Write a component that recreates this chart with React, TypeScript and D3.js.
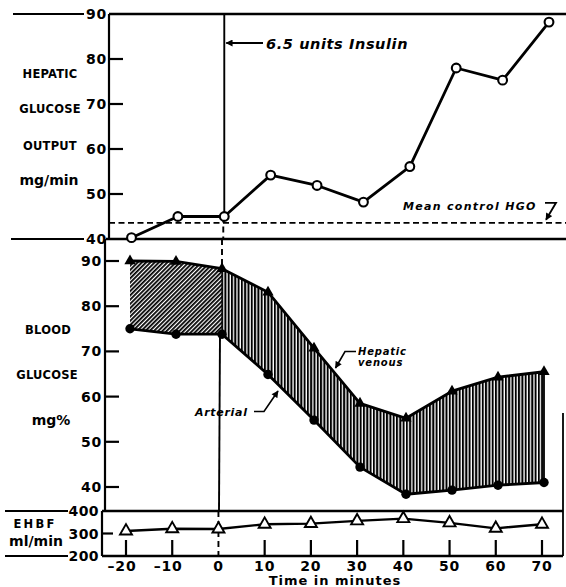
import React from 'react';
import * as d3 from 'd3';

// ---- data ----
const times = [-20, -10, 0, 10, 20, 30, 40, 50, 60, 70];
const hgo = [40.3, 45.0, 45.0, 54.2, 51.9, 48.2, 56.1, 78.0, 75.3, 88.2];
const meanControlHGO = 43.6;
const hepaticVenous = [90.0, 89.9, 88.3, 83.1, 70.7, 58.5, 55.2, 61.2, 64.3, 65.5];
const arterial = [75.0, 73.8, 73.8, 64.9, 54.8, 44.4, 38.4, 39.3, 40.4, 41.0];
const ehbf = [311, 321, 320, 341, 344, 356, 366, 347, 323, 341];
const hgoTicks = [40, 50, 60, 70, 80, 90];
const glucoseTicks = [40, 50, 60, 70, 80, 90];
const ehbfTicks = [200, 300, 400];
const timeTicks = [-20, -10, 0, 10, 20, 30, 40, 50, 60, 70];
const insulinTime = 0;

const W = 566;
const H = 587;
const FONT = "'DejaVu Sans', sans-serif";

export default function App() {
  // panel geometry
  const top = { y0: 14, y1: 239, axisX: 109 };
  const mid = { y0: 239, y1: 511, axisX: 105 };
  const bot = { y0: 511, y1: 556, axisX: 102 };
  const rightEdge = 566;
  const rightBorder = 563;

  const xTop = d3.scaleLinear().domain([-20, 70]).range([131.5, 549]);
  const xMid = d3.scaleLinear().domain([-20, 70]).range([130, 544]);
  const xBot = d3.scaleLinear().domain([-20, 70]).range([126, 542]);

  const yTop = d3.scaleLinear().domain([40, 90]).range([top.y1, top.y0]);
  const yMid = d3.scaleLinear().domain([40, 90]).range([487, 261]);
  const yBot = d3.scaleLinear().domain([200, 400]).range([bot.y1, bot.y0]);

  const hgoPts = times.map((t, i) => [xTop(t), yTop(hgo[i])] as [number, number]);
  const hvPts = times.map((t, i) => [xMid(t), yMid(hepaticVenous[i])] as [number, number]);
  const artPts = times.map((t, i) => [xMid(t), yMid(arterial[i])] as [number, number]);
  const ehbfPts = times.map((t, i) => [xBot(t), yBot(ehbf[i])] as [number, number]);

  const line = d3.line();
  const rows = times.map((t, i) => ({ t, hv: hepaticVenous[i], art: arterial[i] }));
  const area = d3
    .area<{ t: number; hv: number; art: number }>()
    .x((d) => xMid(d.t))
    .y0((d) => yMid(d.art))
    .y1((d) => yMid(d.hv));
  const preRows = rows.filter((d) => d.t <= insulinTime);
  const postRows = rows.filter((d) => d.t >= insulinTime);

  const triFilled = d3.symbol(d3.symbolTriangle, 55)()!;
  const triOpen = d3.symbol(d3.symbolTriangle, 62)()!;

  const tickFont = { fontFamily: FONT, fontWeight: 'bold' as const, fontSize: 14, letterSpacing: 0.8 };
  const labFont = { fontFamily: FONT, fontWeight: 'bold' as const, fontSize: 11.5, letterSpacing: 0.2 };
  const itFont = { fontFamily: FONT, fontWeight: 'bold' as const, fontStyle: 'italic' as const };

  const i0 = times.indexOf(insulinTime);
  const fmt = (v: number) => (v < 0 ? '\u2013' + Math.abs(v) : String(v));
  const yMean = yTop(meanControlHGO);

  return (
    <svg
      width={W}
      height={H}
      viewBox={`0 0 ${W} ${H}`}
      style={{ position: 'absolute', left: 0, top: 0, background: '#fff' }}
    >
      <defs>
        <pattern id="diag" patternUnits="userSpaceOnUse" width={3.0} height={3.0} patternTransform="rotate(45)">
          <rect width={3.0} height={3.0} fill="#fff" />
          <line x1={0.9} y1={0} x2={0.9} y2={3.0} stroke="#000" strokeWidth={1.8} />
        </pattern>
        <pattern id="vert" patternUnits="userSpaceOnUse" width={3.3} height={10}>
          <rect width={3.3} height={10} fill="#fff" />
          <line x1={1} y1={0} x2={1} y2={10} stroke="#000" strokeWidth={2} />
        </pattern>
        <marker id="ah" viewBox="0 0 10 10" refX={9} refY={5} markerWidth={8} markerHeight={7} orient="auto-start-reverse" markerUnits="userSpaceOnUse">
          <path d="M0,0 L10,5 L0,10 Z" fill="#000" />
        </marker>
      </defs>
      <rect width={W} height={H} fill="#fff" />

      {/* ================= TOP PANEL: HGO ================= */}
      <g>
        <line x1={13} x2={84} y1={top.y0} y2={top.y0} stroke="#000" strokeWidth={2.2} />
        <line x1={top.axisX} x2={rightEdge} y1={top.y0} y2={top.y0} stroke="#000" strokeWidth={2.4} />
        <line x1={11} x2={84} y1={top.y1} y2={top.y1} stroke="#000" strokeWidth={2.2} />
        <line x1={top.axisX - 3} x2={rightEdge} y1={top.y1} y2={top.y1} stroke="#000" strokeWidth={2.4} />
        <line x1={top.axisX} x2={top.axisX} y1={top.y0} y2={top.y1} stroke="#000" strokeWidth={2.2} />
        {hgoTicks.map((v) => (
          <g key={v}>
            {v > 40 && v < 90 && (
              <line x1={top.axisX} x2={top.axisX + 14} y1={yTop(v)} y2={yTop(v)} stroke="#000" strokeWidth={2.2} />
            )}
            <text x={top.axisX - 2} y={yTop(v)} dy="0.36em" textAnchor="end" {...tickFont}>
              {v}
            </text>
          </g>
        ))}
        <text x={50} y={74} dy="0.36em" textAnchor="middle" {...labFont}>HEPATIC</text>
        <text x={50} y={109} dy="0.36em" textAnchor="middle" {...labFont}>GLUCOSE</text>
        <text x={50} y={146} dy="0.36em" textAnchor="middle" {...labFont}>OUTPUT</text>
        <text x={49} y={181} dy="0.3em" textAnchor="middle" fontFamily={FONT} fontWeight="bold" fontSize={14}>mg/min</text>

        {/* mean control dashed line */}
        <line x1={top.axisX} x2={rightEdge} y1={yMean} y2={yMean} stroke="#000" strokeWidth={1.7} strokeDasharray="6 3.5" />
        <text x={403} y={yMean - 12.5} {...itFont} fontSize={11} letterSpacing={1.3}>
          Mean control HGO
        </text>
        <path
          d={`M545,${yMean - 20} L556,${yMean - 20} L546,${yMean - 3}`}
          fill="none"
          stroke="#000"
          strokeWidth={1.8}
          markerEnd="url(#ah)"
        />

        {/* insulin line (solid above point, dashed below) */}
        <line x1={xTop(insulinTime)} x2={xTop(insulinTime)} y1={top.y0} y2={hgoPts[i0][1]} stroke="#000" strokeWidth={1.9} />
        <line x1={xTop(insulinTime) - 1} x2={xTop(insulinTime) - 1} y1={hgoPts[i0][1]} y2={top.y1} stroke="#000" strokeWidth={1.9} strokeDasharray="6 4" />
        <line x1={263} x2={xTop(insulinTime) + 2} y1={43} y2={43} stroke="#000" strokeWidth={2} markerEnd="url(#ah)" />
        <text x={266} y={48.5} {...itFont} fontSize={14.5} letterSpacing={0.6}>
          6.5 units Insulin
        </text>

        {/* HGO series */}
        <path d={line(hgoPts)!} fill="none" stroke="#000" strokeWidth={2.8} strokeLinejoin="round" />
        {hgoPts.map(([x, y], i) => (
          <circle key={i} cx={x} cy={y} r={4.4} fill="#fff" stroke="#000" strokeWidth={2.1} />
        ))}
      </g>

      {/* ================= MIDDLE PANEL: BLOOD GLUCOSE ================= */}
      <g>
        <line x1={mid.axisX} x2={mid.axisX} y1={mid.y0} y2={mid.y1} stroke="#000" strokeWidth={2.2} />
        {glucoseTicks.map((v) => (
          <g key={v}>
            <line x1={mid.axisX} x2={mid.axisX + 14} y1={yMid(v)} y2={yMid(v)} stroke="#000" strokeWidth={2.2} />
            <text x={mid.axisX - 3} y={yMid(v)} dy="0.36em" textAnchor="end" {...tickFont}>
              {v}
            </text>
          </g>
        ))}
        <text x={48} y={330} dy="0.36em" textAnchor="middle" {...labFont}>BLOOD</text>
        <text x={47} y={375} dy="0.36em" textAnchor="middle" {...labFont}>GLUCOSE</text>
        <text x={51} y={421} dy="0.3em" textAnchor="middle" fontFamily={FONT} fontWeight="bold" fontSize={14}>mg%</text>

        {/* insulin line: dashed above HV point, solid below arterial */}
        <line x1={xMid(insulinTime)} x2={xMid(insulinTime)} y1={mid.y0} y2={hvPts[i0][1]} stroke="#000" strokeWidth={1.9} strokeDasharray="6 4" />
        <line x1={xMid(insulinTime) - 2} x2={xMid(insulinTime) - 3} y1={artPts[i0][1]} y2={mid.y1} stroke="#000" strokeWidth={1.9} />

        {/* hatched areas */}
        <path d={area(preRows)!} fill="url(#diag)" stroke="none" />
        <path d={area(postRows)!} fill="url(#vert)" stroke="none" />
        <line x1={xMid(insulinTime)} x2={xMid(insulinTime)} y1={hvPts[i0][1]} y2={artPts[i0][1]} stroke="#000" strokeWidth={1.3} />
        <line x1={hvPts[9][0]} x2={artPts[9][0]} y1={hvPts[9][1]} y2={artPts[9][1]} stroke="#000" strokeWidth={1.8} />

        <path d={line(hvPts)!} fill="none" stroke="#000" strokeWidth={2.8} strokeLinejoin="round" />
        <path d={line(artPts)!} fill="none" stroke="#000" strokeWidth={2.8} strokeLinejoin="round" />
        {hvPts.map(([x, y], i) => (
          <path key={'h' + i} d={triFilled} transform={`translate(${x},${y})`} fill="#000" />
        ))}
        {artPts.map(([x, y], i) => (
          <circle key={'a' + i} cx={x} cy={y} r={4.7} fill="#000" />
        ))}

        {/* annotations */}
        <text x={195} y={416} {...itFont} fontSize={11} letterSpacing={0.7}>Arterial</text>
        <path d="M254,411.5 L264,411.5 L278,391" fill="none" stroke="#000" strokeWidth={1.6} markerEnd="url(#ah)" />
        <text x={358} y={355} {...itFont} fontSize={10} letterSpacing={0.8}>Hepatic</text>
        <text x={358} y={366} {...itFont} fontSize={10} letterSpacing={0.8}>venous</text>
        <path d="M356,351.5 L345,351.5 L335.5,368" fill="none" stroke="#000" strokeWidth={1.6} markerEnd="url(#ah)" />
      </g>

      {/* ================= BOTTOM PANEL: EHBF ================= */}
      <g>
        <line x1={5} x2={68} y1={bot.y0} y2={bot.y0} stroke="#000" strokeWidth={2.2} />
        <line x1={bot.axisX} x2={rightBorder} y1={bot.y0} y2={bot.y0} stroke="#000" strokeWidth={2.4} />
        <line x1={5} x2={68} y1={bot.y1} y2={bot.y1} stroke="#000" strokeWidth={2.2} />
        <line x1={bot.axisX} x2={rightBorder} y1={bot.y1} y2={bot.y1} stroke="#000" strokeWidth={2.4} />
        <line x1={bot.axisX} x2={bot.axisX} y1={bot.y0} y2={bot.y1} stroke="#000" strokeWidth={2.2} />
        <line x1={rightBorder} x2={rightBorder} y1={413} y2={bot.y1} stroke="#000" strokeWidth={1.8} />
        {ehbfTicks.map((v) => (
          <g key={v}>
            {v === 300 && (
              <line x1={bot.axisX} x2={bot.axisX + 11} y1={yBot(v)} y2={yBot(v)} stroke="#000" strokeWidth={2.2} />
            )}
            <text x={bot.axisX - 3} y={yBot(v)} dy="0.36em" textAnchor="end" {...tickFont} letterSpacing={0.4}>
              {v}
            </text>
          </g>
        ))}
        <text x={35} y={524} dy="0.36em" textAnchor="middle" {...labFont} letterSpacing={2.2}>EHBF</text>
        <text x={36} y={542} dy="0.3em" textAnchor="middle" fontFamily={FONT} fontWeight="bold" fontSize={14}>ml/min</text>

        {/* x ticks and labels */}
        {timeTicks.map((t) => (
          <g key={t}>
            {t !== insulinTime ? (
              <line x1={xBot(t)} x2={xBot(t)} y1={bot.y1 - 16} y2={bot.y1} stroke="#000" strokeWidth={2.2} />
            ) : (
              <line x1={xBot(t)} x2={xBot(t)} y1={bot.y0} y2={bot.y1} stroke="#000" strokeWidth={1.9} strokeDasharray="6 4" />
            )}
            <text x={xBot(t)} dx={t < 0 ? -4 : 0} y={bot.y1 + 10} dy="0.36em" textAnchor="middle" {...tickFont}>
              {fmt(t)}
            </text>
          </g>
        ))}
        <text x={335} y={585} textAnchor="middle" fontFamily={FONT} fontWeight="bold" fontSize={13} letterSpacing={1}>
          Time in minutes
        </text>

        <path d={line(ehbfPts)!} fill="none" stroke="#000" strokeWidth={2.4} strokeLinejoin="round" />
        {ehbfPts.map(([x, y], i) => (
          <path key={i} d={triOpen} transform={`translate(${x},${y})`} fill="#fff" stroke="#000" strokeWidth={1.9} />
        ))}
      </g>
    </svg>
  );
}
